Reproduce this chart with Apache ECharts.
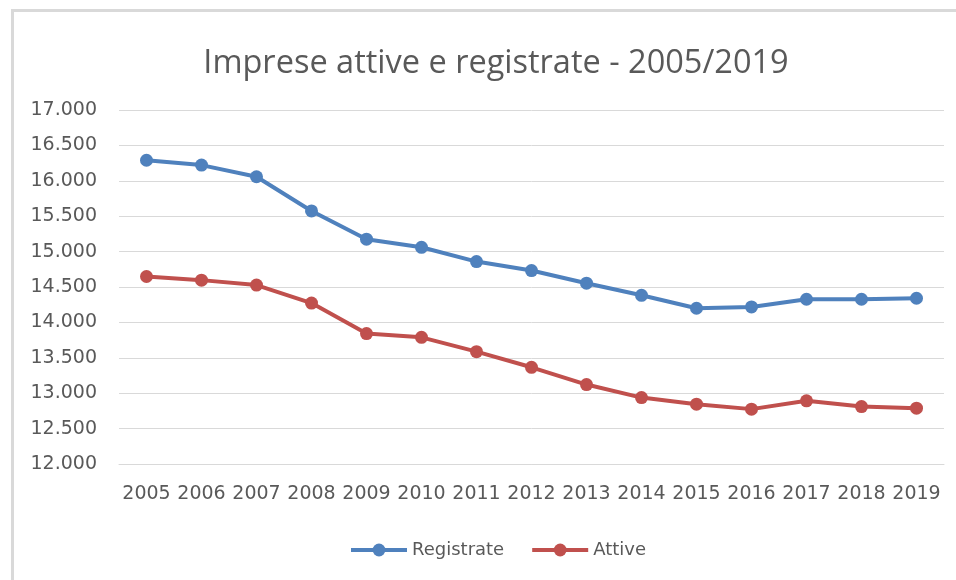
<!DOCTYPE html>
<html>
<head>
<meta charset="utf-8">
<script src="https://cdn.jsdelivr.net/npm/echarts@6/dist/echarts.min.js"></script>
<style>
  html, body { margin: 0; padding: 0; background: #fff; }
  #chart { width: 956px; height: 580px; }
</style>
</head>
<body>
<div id="chart"></div>
<script>
// dati
const years = ['2005', '2006', '2007', '2008', '2009', '2010', '2011', '2012', '2013', '2014', '2015', '2016', '2017', '2018', '2019']
const registrate = [16290, 16222, 16057, 15574, 15175, 15061, 14859, 14732, 14554, 14383, 14200, 14218, 14327, 14327, 14341]
const attive = [14648, 14597, 14527, 14273, 13842, 13789, 13587, 13366, 13122, 12938, 12845, 12775, 12892, 12811, 12789]
const yMin = 12000
const yMax = 17000
const yStep = 500

const gray = '#595959'
const font = 'DejaVu Sans'

// separatore delle migliaia all'italiana
const fmt = v => String(v).replace(/\B(?=(\d{3})+(?!\d))/g, '.')

const chart = echarts.init(document.getElementById('chart'))
chart.setOption({
  backgroundColor: '#fff',
  animation: false,
  title: {
    text: 'Imprese attive e registrate - 2005/2019',
    left: 491,
    top: 42,
    textAlign: 'center',
    textStyle: { fontFamily: 'Open Sans', fontSize: 32.5, fontWeight: 'normal', color: gray }
  },
  legend: {
    data: ['Registrate', 'Attive'],
    left: 344,
    top: 536,
    itemWidth: 56,
    itemHeight: 16,
    itemGap: 26,
    lineStyle: { width: 4 },
    textStyle: { fontFamily: font, fontSize: 18, color: gray }
  },
  grid: { left: 119, right: 12, top: 110, bottom: 116 },
  xAxis: {
    type: 'category',
    data: years,
    axisTick: { show: false },
    axisLine: { lineStyle: { color: '#D9D9D9', width: 1 } },
    axisLabel: { fontFamily: font, fontSize: 19, color: gray, margin: 21, interval: 0 }
  },
  yAxis: {
    type: 'value',
    min: yMin,
    max: yMax,
    interval: yStep,
    axisLine: { show: false },
    axisTick: { show: false },
    splitLine: { lineStyle: { color: '#D9D9D9', width: 1 } },
    axisLabel: { fontFamily: font, fontSize: 19, color: gray, margin: 22, formatter: fmt }
  },
  series: [
    {
      name: 'Registrate',
      type: 'line',
      data: registrate,
      symbol: 'circle',
      symbolSize: 13,
      color: '#4F81BD',
      lineStyle: { width: 4 }
    },
    {
      name: 'Attive',
      type: 'line',
      data: attive,
      symbol: 'circle',
      symbolSize: 13,
      color: '#C0504D',
      lineStyle: { width: 4 }
    }
  ],
  graphic: [{
    type: 'rect',
    shape: { x: 12.5, y: 10.5, width: 1000, height: 1000 },
    style: { fill: 'none', stroke: '#D9D9D9', lineWidth: 3 },
    silent: true
  }]
})
</script>
</body>
</html>
